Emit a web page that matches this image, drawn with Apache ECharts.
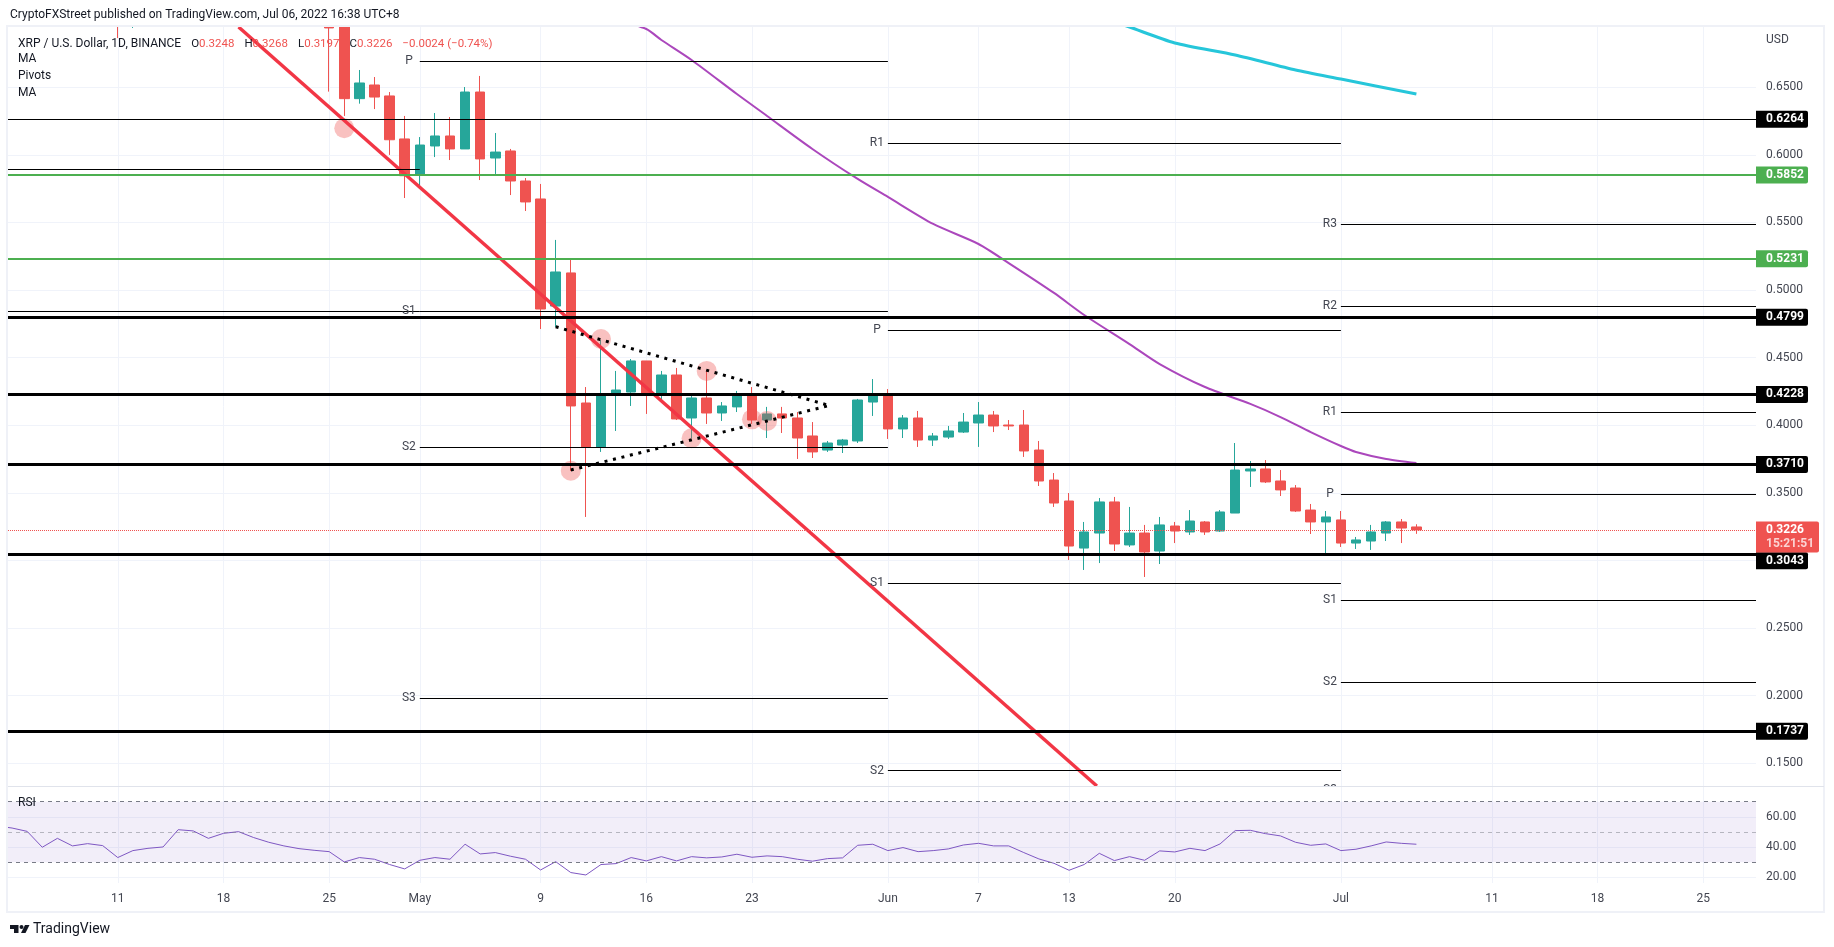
<!DOCTYPE html>
<html>
<head>
<meta charset="utf-8">
<style>html,body{margin:0;padding:0;background:#fff}#chart{width:1834px;height:947px}</style>
<script src="https://cdn.jsdelivr.net/npm/echarts@6/dist/echarts.min.js"></script>
</head>
<body>
<div id="chart"></div>
<script>
const dates = ["04-11","04-12","04-25","04-26","04-27","04-28","04-29","04-30",
  "05-01","05-02","05-03","05-04","05-05","05-06","05-07","05-08","05-09","05-10","05-11","05-12","05-13","05-14","05-15","05-16",
  "05-17","05-18","05-19","05-20","05-21","05-22","05-23","05-24","05-25","05-26","05-27","05-28","05-29","05-30","05-31",
  "06-01","06-02","06-03","06-04","06-05","06-06","06-07","06-08","06-09","06-10","06-11","06-12","06-13","06-14","06-15","06-16",
  "06-17","06-18","06-19","06-20","06-21","06-22","06-23","06-24","06-25","06-26","06-27","06-28","06-29","06-30",
  "07-01","07-02","07-03","07-04","07-05","07-06"];
const opens = [.7400,.7050,.7180,.7000,.6416,.6517,.6436,.6118,
  .5851,.6066,.6140,.6044,.6465,.5977,.6029,.5807,.5674,.4882,.5127,.4165,.3840,.4232,.4246,.4476,
  .4239,.4372,.4054,.4202,.4091,.4136,.4217,.4039,.4084,.4054,.3921,.3817,.3854,.3884,.4172,
  .4217,.3973,.4054,.3891,.3913,.3950,.4017,.4076,.4002,.4002,.3817,.3595,.3440,.3092,.3203,.3433,
  .3115,.3203,.3070,.3255,.3211,.3285,.3218,.3351,.3662,.3677,.3588,.3536,.3373,.3285,
  .3300,.3129,.3144,.3203,.3285,.3248];
const closes = [.7100,.7200,.6939,.6416,.6532,.6428,.6112,.5846,
  .6073,.6140,.6044,.6465,.5970,.6021,.5807,.5652,.4860,.5134,.4143,.3840,.4217,.4261,.4476,.4232,
  .4372,.4047,.4202,.4091,.4143,.4217,.4039,.4084,.4054,.3906,.3803,.3869,.3891,.4187,.4217,
  .3973,.4054,.3891,.3921,.3958,.4024,.4076,.3995,.3995,.3810,.3588,.3425,.3107,.3211,.3433,.3122,
  .3203,.3063,.3263,.3218,.3292,.3211,.3359,.3669,.3677,.3581,.3522,.3366,.3285,.3322,
  .3129,.3152,.3211,.3285,.3240,.3226];
const lows = [.6864,.6939,.6468,.6288,.6379,.6339,.6000,.5681,
  .5777,.5984,.5962,.6044,.5814,.5859,.5703,.5585,.4712,.4727,.3662,.3322,.3803,.3958,.4143,.4084,
  .4187,.4039,.3906,.4010,.4032,.4098,.4010,.3906,.3943,.3751,.3758,.3803,.3795,.3869,.4069,
  .3899,.3906,.3840,.3847,.3899,.3943,.3840,.3950,.3965,.3766,.3551,.3396,.3004,.2930,.2981,.3070,
  .3100,.2878,.2974,.3129,.3189,.3189,.3211,.3351,.3544,.3573,.3477,.3359,.3196,.3055,
  .3100,.3085,.3078,.3144,.3129,.3197];
const highs = [.7500,.7250,.7300,.7050,.6628,.6576,.6465,.6288,
  .6132,.6310,.6280,.6502,.6584,.6162,.6044,.5829,.5785,.5371,.5223,.4283,.4631,.4402,.4490,.4476,
  .4402,.4424,.4217,.4402,.4172,.4254,.4283,.4136,.4136,.4098,.4024,.3884,.3899,.4195,.4342,
  .4268,.4076,.4106,.3943,.3995,.4091,.4172,.4106,.4039,.4113,.3884,.3647,.3499,.3285,.3462,.3470,
  .3396,.3263,.3322,.3285,.3373,.3292,.3373,.3869,.3736,.3743,.3669,.3558,.3418,.3366,
  .3366,.3174,.3263,.3292,.3307,.3268];

const maSlowDates = ["05-14","05-16","05-17","05-19","05-22","05-24","05-27","05-30","06-01","06-04","06-07","06-09","06-12",
  "06-14","06-17","06-19","06-22","06-25","06-27","06-29","07-01","07-02","07-04","07-06"];
const maSlowValues = [.6998,.6931,.6850,.6702,.6450,.6288,.6044,.5822,.5689,.5489,.5341,.5200,.4979,
  .4816,.4601,.4453,.4283,.4158,.4061,.3950,.3847,.3803,.3751,.3721];
const maLongDates = ["06-16","06-17","06-20","06-24","06-28","07-01","07-06"];
const maLongValues = [.6985,.6946,.6828,.6739,.6628,.6561,.6450];

const rsiFirstDate = "04-03";
const rsiValues = [54.0,52.6,50.4,39.9,45.8,40.8,42.3,41.0,33.1,37.7,39.2,40.1,51.5,50.7,45.8,49.1,50.2,46.3,43.2,40.8,39.0,37.9,37.0,30.2,33.1,32.0,28.5,25.6,
  31.3,33.1,32.0,41.9,35.5,36.4,34.0,32.0,24.9,30.4,23.2,21.6,28.5,29.1,33.1,30.9,33.7,30.9,33.7,32.9,33.5,35.3,33.3,34.2,33.7,32.0,30.7,32.4,32.9,41.2,41.9,
  37.7,39.7,37.0,37.7,38.8,41.4,42.5,40.8,40.8,36.4,32.2,29.3,24.7,28.5,35.9,31.1,33.7,31.3,37.5,36.8,39.2,37.7,42.1,50.9,51.1,48.9,47.4,43.2,41.2,42.1,
  37.7,38.6,40.8,43.4,42.5,41.9];

const touchDates = ["04-26","05-11","05-13","05-19","05-20","05-23","05-24"];
const touchPrices = [.6197,.3664,.4638,.3904,.4402,.4044,.4032];

const trendPrices = [.6946,.1332];
const wedgeUpperDates = ["05-10","05-28"];
const wedgeUpperPrices = [.4729,.4150];
const wedgeLowerDates = ["05-11","05-28"];
const wedgeLowerPrices = [.3669,.4143];

const thickLevels = [.4799,.4228,.3710,.3043,.1737];
const greenLevels = [.5852,.5231];
const thinLevels = [.6264];
const lastPrice = .3226;
const lastCountdown = "15:21:51";

const pivotNames = ["","","P","S1","S2","S3","R1","P","S1","S2","R3","R2","R1","P","S1","S2"];
const pivotFrom = ["04-03","04-03","05-01","05-01","05-01","05-01","06-01","06-01","06-01","06-01","07-01","07-01","07-01","07-01","07-01","07-01"];
const pivotTo = ["05-01","05-01","06-01","06-01","06-01","06-01","07-01","07-01","07-01","07-01","07-29","07-29","07-29","07-29","07-29","07-29"];
const pivotPrices = [.5896,.4846,.6692,.4843,.3840,.1983,.6086,.4703,.2831,.1445,.5487,.4880,.4096,.3490,.2708,.2098];
// July S3 sits just under the pane, only the top of its label shows
const offPivotName = "S3";
const offPivotDate = "07-01";
const offPivotPrice = .1300;

const tagPrices = [.6264,.5852,.5231,.4799,.4228,.3710,.3043,.1737];
const tagColors = ["#000","#4caf50","#4caf50","#000","#000","#000","#000","#000"];

const priceTicks = [.15,.20,.25,.30,.35,.40,.45,.50,.55,.60,.65];
const priceLabels = [.15,.20,.25,.35,.40,.45,.50,.55,.60,.65];
const rsiTicks = [20,40,60];
const tickDates = ["04-11","04-18","04-25","05-01","05-09","05-16","05-23","06-01","06-07","06-13","06-20","07-01","07-11","07-18","07-25"];
const tickLabels = ["11","18","25","May","9","16","23","Jun","7","13","20","Jul","11","18","25"];

const headerText = "CryptoFXStreet published on TradingView.com, Jul 06, 2022 16:38 UTC+8";
const legendText = "{k|XRP / U.S. Dollar, 1D, BINANCE}  {o|O}{v|0.3248}  {o|H}{v|0.3268}  {o|L}{v|0.3197}  {o|C}{v|0.3226}  {v|\u22120.0024 (\u22120.74%)}";
const studyNames = ["MA", "Pivots", "MA"];

// days since Apr 1, so the axes can stay plain value axes
const day = (s) => {
  const [m, d] = s.split("-").map(Number);
  return (Date.UTC(2022, m - 1, 1) - Date.UTC(2022, 3, 1)) / 864e5 + d - 1;
};

const font = "Roboto, sans-serif";
const textColor = "#434651";
const gridColor = "#f0f3fa";
const xMin = 2.73;
const xMax = 118.49;
const tickDays = tickDates.map(day);

const candles = dates.map((d, i) => [day(d), opens[i], closes[i], lows[i], highs[i]]);
const rsiLine = rsiValues.map((v, i) => [day(rsiFirstDate) + i, v]);

const hline = (price, color, width, type) => [
  { coord: [xMin, price], lineStyle: { color, width, type: type || "solid" } },
  { coord: [xMax, price] },
];

const chart = echarts.init(document.getElementById("chart"));

chart.setOption({
  animation: false,
  backgroundColor: "#fff",
  title: {
    left: 13,
    top: 30,
    text: legendText,
    textStyle: {
      rich: {
        k: { color: "#131722", fontFamily: font, fontSize: 12, fontWeight: "normal" },
        o: { color: "#131722", fontFamily: font, fontSize: 11.5, fontWeight: "normal" },
        v: { color: "#ef5350", fontFamily: font, fontSize: 11.5, fontWeight: "normal" },
      },
    },
  },
  grid: [
    { left: 8, top: 27, width: 1748, height: 759 },
    { left: 8, top: 786, width: 1748, height: 97 },
  ],
  xAxis: [
    {
      type: "value",
      gridIndex: 0,
      min: xMin,
      max: xMax,
      axisLine: { show: false },
      axisTick: { show: false, customValues: tickDays },
      axisLabel: { show: false },
      splitLine: { show: true, lineStyle: { color: gridColor } },
    },
    {
      type: "value",
      gridIndex: 1,
      min: xMin,
      max: xMax,
      axisLine: { show: false },
      axisTick: { show: false, customValues: tickDays },
      axisLabel: {
        customValues: tickDays,
        margin: 10,
        hideOverlap: false,
        fontFamily: font,
        fontSize: 12,
        color: textColor,
        formatter: (v) => tickLabels[tickDays.indexOf(v)],
      },
      splitLine: { show: true, lineStyle: { color: gridColor } },
    },
  ],
  yAxis: [
    {
      type: "value",
      gridIndex: 0,
      position: "right",
      min: 0.1332,
      max: 0.6946,
      axisLine: { show: false },
      axisTick: { show: false, customValues: priceTicks },
      axisLabel: {
        customValues: priceLabels,
        margin: 10,
        fontFamily: font,
        fontSize: 12,
        color: textColor,
        formatter: (v) => v.toFixed(4),
      },
      splitLine: { show: true, lineStyle: { color: gridColor } },
    },
    {
      type: "value",
      gridIndex: 1,
      position: "right",
      min: 16.3,
      max: 80.36,
      axisLine: { show: false },
      axisTick: { show: false, customValues: rsiTicks },
      axisLabel: {
        customValues: rsiTicks,
        margin: 10,
        fontFamily: font,
        fontSize: 12,
        color: textColor,
        formatter: (v) => v.toFixed(2),
      },
      splitLine: { show: true, lineStyle: { color: gridColor } },
    },
  ],
  series: [
    {
      name: "XRP",
      type: "candlestick",
      xAxisIndex: 0,
      yAxisIndex: 0,
      barWidth: 10,
      encode: { x: 0, y: [1, 2, 3, 4] },
      itemStyle: {
        color: "#26a69a",
        color0: "#ef5350",
        borderColor: "#26a69a",
        borderColor0: "#ef5350",
        borderWidth: 1,
      },
      data: candles,
    },
    {
      name: "Levels",
      type: "line",
      xAxisIndex: 0,
      yAxisIndex: 0,
      data: [],
      markLine: {
        silent: true,
        symbol: "none",
        animation: false,
        label: { show: false },
        data: [
          ...pivotPrices.map((p, i) => [
            {
              coord: [day(pivotFrom[i]) < xMin ? xMin : day(pivotFrom[i]), p],
              lineStyle: { color: "#000", width: 1.2, type: "solid" },
              label: {
                show: pivotNames[i] !== "",
                position: "start",
                distance: pivotNames[i] === "P" ? 7 : 4,
                formatter: pivotNames[i],
                fontFamily: font,
                fontSize: 12,
                color: textColor,
              },
            },
            { coord: [Math.min(day(pivotTo[i]), xMax), p] },
          ]),
          ...thinLevels.map((p) => hline(p, "#000", 1.2)),
          ...greenLevels.map((p) => hline(p, "#4caf50", 2)),
          ...thickLevels.map((p) => hline(p, "#000", 3)),
          hline(lastPrice, "#ef5350", 1, "dotted"),
        ],
      },
    },
    {
      name: "MA",
      type: "line",
      xAxisIndex: 0,
      yAxisIndex: 0,
      showSymbol: false,
      smooth: 0.25,
      lineStyle: { color: "#ab47bc", width: 2 },
      data: maSlowDates.map((d, i) => [day(d), maSlowValues[i]]),
    },
    {
      name: "MA",
      type: "line",
      xAxisIndex: 0,
      yAxisIndex: 0,
      showSymbol: false,
      smooth: 0.25,
      lineStyle: { color: "#26c6da", width: 3 },
      data: maLongDates.map((d, i) => [day(d), maLongValues[i]]),
    },
    {
      name: "Touches",
      type: "scatter",
      xAxisIndex: 0,
      yAxisIndex: 0,
      symbolSize: 20,
      itemStyle: { color: "rgba(239,83,80,0.45)" },
      data: touchDates.map((d, i) => [day(d), touchPrices[i]]),
    },
    {
      name: "Trend",
      type: "line",
      xAxisIndex: 0,
      yAxisIndex: 0,
      showSymbol: false,
      lineStyle: { color: "#f23645", width: 3.5 },
      data: [
        [day("04-19"), trendPrices[0]],
        [day("06-14") + 0.84, trendPrices[1]],
      ],
    },
    {
      name: "Wedge upper",
      type: "line",
      xAxisIndex: 0,
      yAxisIndex: 0,
      showSymbol: false,
      lineStyle: { color: "#000", width: 3, type: [3, 5.7] },
      data: wedgeUpperDates.map((d, i) => [day(d), wedgeUpperPrices[i]]),
    },
    {
      name: "Wedge lower",
      type: "line",
      xAxisIndex: 0,
      yAxisIndex: 0,
      showSymbol: false,
      lineStyle: { color: "#000", width: 3, type: [3, 5.7] },
      data: wedgeLowerDates.map((d, i) => [day(d), wedgeLowerPrices[i]]),
    },
    {
      name: "Off-scale pivot",
      type: "custom",
      xAxisIndex: 0,
      yAxisIndex: 0,
      silent: true,
      data: [[day(offPivotDate), offPivotPrice]],
      renderItem: (params, api) => {
        const [x, y] = api.coord([api.value(0), api.value(1)]);
        return {
          type: "text",
          style: { x: x - 4, y, text: offPivotName, fill: textColor, font: "12px " + font, align: "right", verticalAlign: "middle" },
        };
      },
    },
    {
      // price tags on the right scale, nudged where they would collide
      name: "Tags",
      type: "custom",
      xAxisIndex: 0,
      yAxisIndex: 0,
      silent: true,
      z: 20,
      data: tagPrices.map((p, i) => [xMax, p, i]),
      renderItem: (params, api) => {
        const [x, y] = api.coord([api.value(0), api.value(1)]);
        const i = api.value(2);
        const dy = tagPrices[i] === 0.3043 ? 6 : 0;
        return {
          type: "group",
          children: [
            {
              type: "rect",
              shape: { x, y: y - 8.5 + dy, width: 52, height: 17, r: [0, 2, 2, 0] },
              style: { fill: tagColors[i] },
            },
            {
              type: "text",
              style: {
                x: x + 10,
                y: y + dy,
                text: tagPrices[i].toFixed(4),
                fill: "#fff",
                font: "bold 12px " + font,
                verticalAlign: "middle",
              },
            },
          ],
        };
      },
    },
    {
      name: "Last",
      type: "custom",
      xAxisIndex: 0,
      yAxisIndex: 0,
      silent: true,
      z: 21,
      data: [[xMax, lastPrice]],
      renderItem: (params, api) => {
        const [x, y] = api.coord([api.value(0), api.value(1)]);
        return {
          type: "group",
          children: [
            {
              type: "rect",
              shape: { x, y: y - 8.5, width: 63, height: 31, r: [0, 2, 2, 0] },
              style: { fill: "#ef5350" },
            },
            {
              type: "text",
              style: { x: x + 10, y, text: lastPrice.toFixed(4), fill: "#fff", font: "bold 12px " + font, verticalAlign: "middle" },
            },
            {
              type: "text",
              style: { x: x + 10, y: y + 14.5, text: lastCountdown, fill: "rgba(255,255,255,0.75)", font: "bold 12px " + font, verticalAlign: "middle" },
            },
          ],
        };
      },
    },
    {
      name: "RSI",
      type: "line",
      xAxisIndex: 1,
      yAxisIndex: 1,
      showSymbol: false,
      lineStyle: { color: "#7e57c2", width: 1 },
      data: rsiLine,
      markArea: {
        silent: true,
        itemStyle: { color: "rgba(126,87,194,0.1)" },
        data: [[{ coord: [xMin, 70] }, { coord: [xMax, 30] }]],
      },
      markLine: {
        silent: true,
        symbol: "none",
        animation: false,
        label: { show: false },
        data: [
          hline(70, "#787b86", 1, [4, 4]),
          hline(50, "rgba(120,123,134,0.5)", 1, [4, 4]),
          hline(30, "#787b86", 1, [4, 4]),
        ],
      },
    },
  ],
  graphic: [
    // candles above the pane are not clipped by echarts, so mask the strip over it
    { type: "rect", z: 49, silent: true, shape: { x: 8, y: 0, width: 1748, height: 26 }, style: { fill: "#fff" } },
    // frame and pane separator
    { type: "rect", z: 50, silent: true, shape: { x: 7, y: 26, width: 1817, height: 886 }, style: { fill: "none", stroke: "#eff1f7", lineWidth: 2 } },
    { type: "rect", z: 50, silent: true, shape: { x: 1320, y: 786.5, width: 20, height: 7 }, style: { fill: "#fff" } },
    { type: "line", z: 51, silent: true, shape: { x1: 8, y1: 786.5, x2: 1824, y2: 786.5 }, style: { stroke: "#e0e3eb", lineWidth: 1 } },
    { type: "text", z: 51, silent: true, left: 10, top: 9, style: { text: headerText, fill: "#131722", font: "12px " + font } },
    { type: "text", z: 51, silent: true, left: 1766, top: 34, style: { text: "USD", fill: textColor, font: "12px " + font } },
    ...studyNames.map((s, i) => ({
      type: "text", z: 51, silent: true, left: 18, top: 53 + i * 17, style: { text: s, fill: "#131722", font: "12px " + font },
    })),
    { type: "text", z: 51, silent: true, left: 18, top: 797, style: { text: "RSI", fill: "#131722", font: "12px " + font } },
    // TradingView mark
    { type: "polygon", z: 51, silent: true, shape: { points: [[10, 925], [18.5, 925], [18.5, 933], [14, 933], [14, 929], [10, 929]] }, style: { fill: "#131722" } },
    { type: "circle", z: 51, silent: true, shape: { cx: 21.5, cy: 927, r: 2 }, style: { fill: "#131722" } },
    { type: "polygon", z: 51, silent: true, shape: { points: [[25, 925], [29.5, 925], [25.5, 933], [21, 933]] }, style: { fill: "#131722" } },
    { type: "text", z: 51, silent: true, left: 33, top: 922, style: { text: "TradingView", fill: "#131722", font: "14px " + font } },
  ],
});
</script>
</body>
</html>
